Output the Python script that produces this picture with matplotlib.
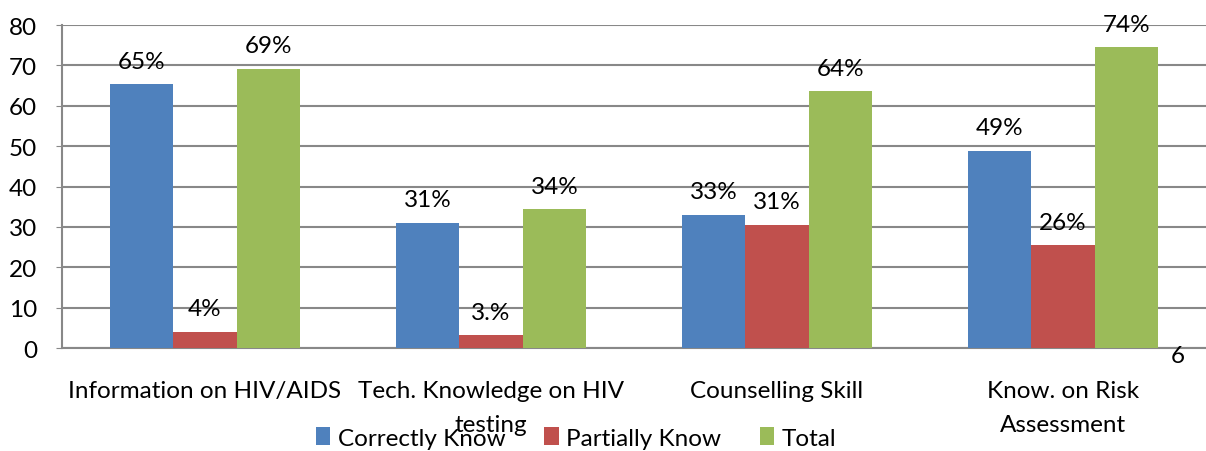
import matplotlib
matplotlib.use("Agg")
import matplotlib.pyplot as plt
import numpy as np

plt.rcParams['font.family'] = ['Lato', 'DejaVu Sans']

categories = ["Information on HIV/AIDS", "Tech. Knowledge on HIV\ntesting",
              "Counselling Skill", "Know. on Risk\nAssessment"]
series_names = ["Correctly Know", "Partially Know", "Total"]
correctly = [65.3, 31.0, 33.0, 48.8]
partially = [4.0, 3.2, 30.5, 25.5]
total = [69.2, 34.4, 63.6, 74.5]
labels_correct = ["65%", "31%", "33%", "49%"]
labels_partial = ["4%", "3.%", "31%", "26%"]
labels_total = ["69%", "34%", "64%", "74%"]
yticks = [0, 10, 20, 30, 40, 50, 60, 70, 80]
colors = ["#4F81BD", "#C0504D", "#9BBB59"]

fig = plt.figure(figsize=(12.06, 4.52), dpi=100)
ax = fig.add_axes([62/1206, 1 - 349/452, 1144/1206, (349-26)/452])

x = np.arange(len(categories))
w = 0.222
data = [correctly, partially, total]
labs = [labels_correct, labels_partial, labels_total]
for k in range(3):
    bars = ax.bar(x + (k - 1) * w, data[k], width=w, color=colors[k],
                  label=series_names[k], zorder=3)
    for b, t in zip(bars, labs[k]):
        ax.annotate(t, (b.get_x() + b.get_width() / 2, b.get_height()),
                    xytext=(0, 9), textcoords="offset points",
                    ha="center", va="bottom", fontsize=17.5, color="black", zorder=4)

ax.set_xlim(-0.5, 3.5)
ax.set_ylim(0, 80)
ax.set_yticks(yticks)
ax.set_yticklabels([str(v) for v in yticks], fontsize=17.5)
ax.set_xticks(x)
ax.set_xticklabels(categories, fontsize=17.5, linespacing=1.75)
ax.tick_params(axis='x', length=0, pad=23)
ax.tick_params(axis='y', length=4, color="#888888", pad=14)
ax.grid(axis='y', color="#888888", linewidth=1.5, zorder=0)
for s in ["top", "right"]:
    ax.spines[s].set_visible(False)
for s in ["left", "bottom"]:
    ax.spines[s].set_color("#888888")
    ax.spines[s].set_linewidth(1.5)

fig.text(1178/1206, 1 - 357/452, "6", fontsize=17.5, ha="center", va="center")

fig.legend(loc="center", bbox_to_anchor=(576/1206, 1 - 439/452), ncol=3,
           frameon=False, fontsize=17.5, handlelength=0.6, handleheight=0.75,
           handletextpad=0.3, columnspacing=1.6)

fig.savefig("out.png", dpi=100)
